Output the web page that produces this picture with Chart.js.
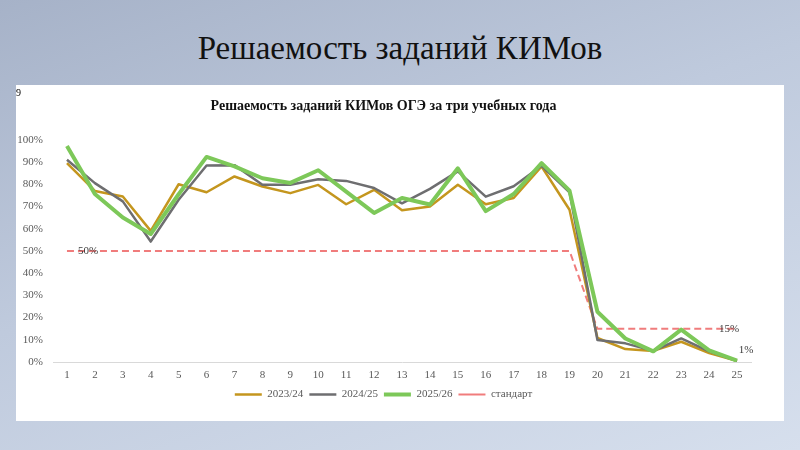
<!DOCTYPE html>
<html>
<head>
<meta charset="utf-8">
<script src="https://cdn.jsdelivr.net/npm/chart.js@4"></script>
<style>
  html, body { margin: 0; padding: 0; }
  body {
    width: 800px; height: 450px; overflow: hidden; position: relative;
    background: linear-gradient(160deg, #a6b2c8 0%, #bfcadd 45%, #d6dfed 100%);
    font-family: "Liberation Serif", "Times New Roman", serif;
  }
  #slide-title {
    position: absolute; left: 0; top: 28px; width: 800px;
    text-align: center; font-size: 33px; color: #111; line-height: 40px;
  }
  #panel {
    position: absolute; left: 16px; top: 85px; width: 768px; height: 336px;
    background: #fff;
  }
  #slide-num { position: absolute; left: 0; top: 2px; font-size: 10px; color: #000; }
  canvas { position: absolute; left: 0; top: 0; }
</style>
</head>
<body>
<div id="slide-title">Решаемость заданий КИМов</div>
<div id="panel">
  <canvas id="chart" width="768" height="336"></canvas>
  <span id="slide-num">9</span>
</div>
<script>
// Data
const tasks = ['1','2','3','4','5','6','7','8','9','10','11','12','13','14','15','16','17','18','19','20','21','22','23','24','25'];
const year2324 = [89.5, 77, 74.5, 59, 80, 76.4, 83.5, 79, 76, 79.7, 71, 77.5, 68.3, 70, 79.8, 71, 73.8, 88, 68.5, 10.8, 5.8, 5, 9.1, 4, 0.5];
const year2425 = [91, 80.5, 72.3, 54.2, 73, 88.4, 88.6, 79.8, 79.8, 82.2, 81.5, 78.3, 71.4, 77.9, 85.8, 74.4, 79.1, 88.3, 76.4, 9.9, 8.4, 5, 10.6, 4.8, 0.5];
const year2526 = [97.2, 75.6, 65, 57.6, 75.5, 92.3, 88, 82.7, 80.6, 86.3, 76.7, 67.1, 73.8, 70.9, 87.2, 67.9, 75.6, 89.5, 77.1, 22.6, 10.6, 4.8, 14.6, 5.2, 0.6];
const standard = [50, 50, 50, 50, 50, 50, 50, 50, 50, 50, 50, 50, 50, 50, 50, 50, 50, 50, 50, 15, 15, 15, 15, 15, 15];
const seriesNames = ['2023/24', '2024/25', '2025/26', 'стандарт'];

// Data labels: series index, point index, text
const pointLabels = [
  { ds: 3, i: 0, text: '50%', dx: 21, dy: 0 },
  { ds: 3, i: 24, text: '15%', dx: -8, dy: 0 },
  { ds: 2, i: 24, text: '1%', dx: 9, dy: -11 }
];

const serif = '"Liberation Serif", "Times New Roman", serif';
const tickColor = '#595959';

const labelPlugin = {
  id: 'pointLabels',
  afterDatasetsDraw(chart) {
    const ctx = chart.ctx;
    ctx.save();
    ctx.font = '11px ' + serif;
    ctx.fillStyle = '#404040';
    ctx.textAlign = 'center';
    ctx.textBaseline = 'middle';
    pointLabels.forEach(l => {
      const pt = chart.getDatasetMeta(l.ds).data[l.i];
      ctx.fillText(l.text, pt.x + l.dx, pt.y + l.dy);
    });
    ctx.restore();
  }
};

const ctx = document.getElementById('chart').getContext('2d');
new Chart(ctx, {
  type: 'line',
  data: {
    labels: tasks,
    datasets: [
      { label: seriesNames[0], data: year2324, borderColor: '#c4961e', backgroundColor: '#c4961e', borderWidth: 2.5, order: 2 },
      { label: seriesNames[1], data: year2425, borderColor: '#6e6e70', backgroundColor: '#6e6e70', borderWidth: 2.5, order: 1 },
      { label: seriesNames[2], data: year2526, borderColor: '#7dc859', backgroundColor: '#7dc859', borderWidth: 4, order: 0 },
      { label: seriesNames[3], data: standard, borderColor: '#f07c7c', backgroundColor: '#f07c7c', borderWidth: 2, borderDash: [7, 4], order: 3 }
    ]
  },
  options: {
    responsive: false,
    animation: false,
    elements: {
      point: { radius: 0, hoverRadius: 0 },
      line: { tension: 0, borderJoinStyle: 'round' }
    },
    layout: { padding: { left: 0, right: 33, top: 0, bottom: 11 } },
    plugins: {
      title: {
        display: true,
        text: 'Решаемость заданий КИМов ОГЭ за три учебных года',
        color: '#111',
        font: { family: serif, size: 14, weight: 'bold' },
        padding: { top: 13, bottom: 25 }
      },
      legend: {
        position: 'bottom',
        labels: {
          color: tickColor,
          font: { family: serif, size: 11 },
          usePointStyle: true,
          pointStyle: 'line',
          pointStyleWidth: 27,
          boxHeight: 11,
          padding: 6,
          sort: (a, b) => a.datasetIndex - b.datasetIndex
        }
      },
      tooltip: { enabled: false }
    },
    scales: {
      x: {
        offset: true,
        afterFit(scale) { scale.height = 21; },
        grid: { display: false, drawTicks: false },
        border: { display: true, color: '#d9d9d9', width: 1 },
        ticks: { color: tickColor, font: { family: serif, size: 11 }, padding: 7, maxRotation: 0, autoSkip: false }
      },
      y: {
        min: 0,
        max: 100,
        afterFit(scale) { scale.width = 37; },
        grid: { display: false, drawTicks: false },
        border: { display: false },
        ticks: {
          stepSize: 10,
          color: tickColor,
          font: { family: serif, size: 11 },
          padding: 10,
          callback: v => v + '%'
        }
      }
    }
  },
  plugins: [labelPlugin]
});
</script>
</body>
</html>
